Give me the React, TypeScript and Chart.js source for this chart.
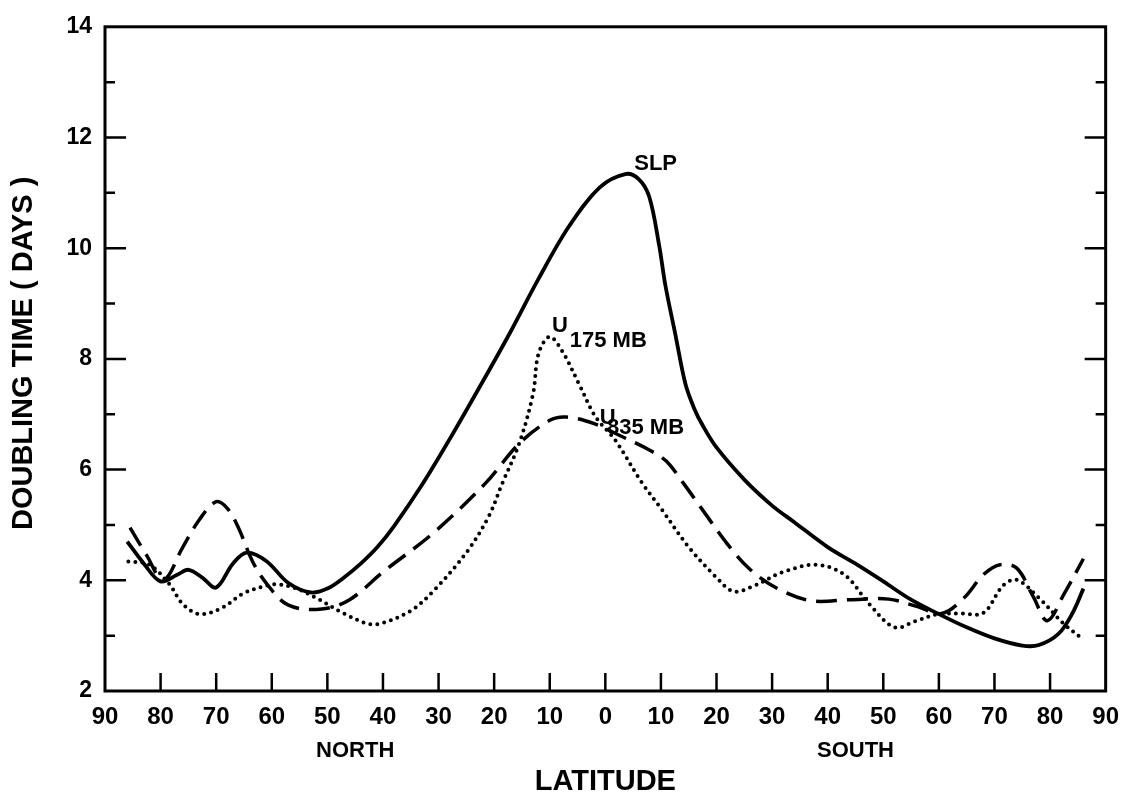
import React, { useEffect, useRef } from "react";
import { Chart, registerables } from "chart.js";

Chart.register(...registerables);

// Latitude: negative = North, positive = South
const slpLat = [-86, -83, -80, -77, -75, -72.5, -70, -67, -64.5, -61, -57, -53, -50, -47, -44, -41, -38, -33, -28, -22, -17, -12, -6.5, -1, 3.6, 6, 7.9, 9.7, 10.8, 12.6, 14.4, 16, 17.5, 20, 25, 30, 34, 40, 45, 50, 55, 60, 65, 70, 75, 78, 81.5, 84, 86];
const slpDays = [4.7, 4.3, 3.98, 4.1, 4.19, 4.05, 3.87, 4.3, 4.5, 4.35, 3.95, 3.78, 3.85, 4.05, 4.3, 4.6, 4.98, 5.72, 6.55, 7.6, 8.5, 9.45, 10.4, 11.1, 11.34, 11.25, 10.93, 10.04, 9.33, 8.44, 7.55, 7.1, 6.8, 6.4, 5.82, 5.35, 5.05, 4.6, 4.3, 3.98, 3.65, 3.39, 3.15, 2.95, 2.82, 2.83, 3.03, 3.4, 3.85];

const u175Lat = [-85.8, -82, -78.5, -76, -73, -69, -65, -61, -59, -55.5, -52, -47, -42.5, -40, -35, -31, -25, -21, -18.5, -15.5, -13, -12, -10, -7.7, -4.7, -1.8, 1.8, 6.6, 10, 15, 20, 23, 26.5, 32, 38, 43, 47.5, 52, 56, 60, 64, 68, 71.5, 74, 78, 82.5, 85.6];
const u175Days = [4.34, 4.28, 3.94, 3.57, 3.39, 3.5, 3.77, 3.9, 3.93, 3.85, 3.68, 3.4, 3.21, 3.23, 3.45, 3.8, 4.5, 5.15, 5.76, 6.47, 7.37, 8.1, 8.4, 8.13, 7.54, 6.96, 6.53, 5.76, 5.3, 4.6, 4.05, 3.8, 3.89, 4.15, 4.28, 4.1, 3.57, 3.15, 3.27, 3.39, 3.4, 3.41, 3.9, 4.01, 3.68, 3.21, 2.96];

const u835Lat = [-85.5, -82.5, -79.5, -76, -73, -70, -68, -66, -63.5, -61, -57, -51, -46, -40, -31, -21.5, -15.5, -10, -7, -2, 2.5, 8, 11, 14, 18, 22, 26, 31, 37, 44, 51, 56, 60.5, 64.5, 68, 71, 74, 77, 79.5, 82.5, 86];
const u835Days = [4.95, 4.45, 4.0, 4.6, 5.1, 5.42, 5.3, 4.95, 4.35, 3.95, 3.55, 3.48, 3.65, 4.15, 4.85, 5.76, 6.47, 6.89, 6.95, 6.83, 6.62, 6.35, 6.15, 5.76, 5.2, 4.65, 4.2, 3.85, 3.63, 3.65, 3.66, 3.53, 3.4, 3.68, 4.1, 4.28, 4.22, 3.7, 3.27, 3.75, 4.39];

const hemisphereLabels = ["NORTH", "SOUTH"];
const hemisphereCenters = [-45, 45];
const yTitle = "DOUBLING TIME ( DAYS )";

const FONT = "'Liberation Sans', Arial, Helvetica, sans-serif";

const toPoints = (lat: number[], days: number[]) => lat.map((x, i) => ({ x, y: days[i] }));

const curveLabels = [
  { main: "SLP", x: 5.2, y: 11.41 },
  { main: "U", x: -9.6, y: 8.49, sub: "175 MB", subX: -6.4, subY: 8.22 },
  { main: "U", x: -1.0, y: 6.83, sub: "835 MB", subX: 0.3, subY: 6.65 },
];

const framePlugin = {
  id: "frame",
  afterDatasetsDraw(chart: any) {
    const { ctx, chartArea: a, scales } = chart;
    const xs = scales.x;
    const ys = scales.y;
    ctx.save();
    ctx.strokeStyle = "#000";
    ctx.lineCap = "butt";
    ctx.lineWidth = 2.5;
    ys.ticks.forEach((t: any) => {
      const v = t.value;
      if (v <= ys.min || v >= ys.max) return;
      const py = ys.getPixelForValue(v);
      const len = v % 2 === 0 ? 21 : 10;
      ctx.beginPath();
      ctx.moveTo(a.left, py);
      ctx.lineTo(a.left + len, py);
      ctx.moveTo(a.right, py);
      ctx.lineTo(a.right - len, py);
      ctx.stroke();
    });
    xs.ticks.forEach((t: any) => {
      const v = t.value;
      if (v <= xs.min || v >= xs.max) return;
      const px = xs.getPixelForValue(v);
      ctx.beginPath();
      ctx.moveTo(px, a.bottom);
      ctx.lineTo(px, a.bottom - 18);
      ctx.stroke();
    });
    ctx.lineWidth = 3;
    ctx.strokeRect(a.left, a.top, a.right - a.left, a.bottom - a.top);

    ctx.fillStyle = "#000";
    ctx.font = `bold 22px ${FONT}`;
    ctx.textAlign = "left";
    ctx.textBaseline = "alphabetic";
    curveLabels.forEach((l: any) => {
      ctx.fillText(l.main, xs.getPixelForValue(l.x), ys.getPixelForValue(l.y));
      if (l.sub) ctx.fillText(l.sub, xs.getPixelForValue(l.subX), ys.getPixelForValue(l.subY));
    });
    ctx.font = `bold 22px ${FONT}`;
    ctx.textAlign = "center";
    ctx.textBaseline = "middle";
    hemisphereLabels.forEach((t, i) => {
      ctx.fillText(t, xs.getPixelForValue(hemisphereCenters[i]), a.bottom + 60);
    });
    // y axis title
    ctx.save();
    ctx.translate(24, ys.getPixelForValue(8.1));
    ctx.rotate(-Math.PI / 2);
    ctx.font = `bold 29px ${FONT}`;
    ctx.fillText(yTitle, 0, 0);
    ctx.restore();
    ctx.restore();
  },
};

export default function App() {
  const canvasRef = useRef<HTMLCanvasElement | null>(null);

  useEffect(() => {
    if (!canvasRef.current) return;
    const common = {
      pointRadius: 0,
      borderColor: "#000",
      borderWidth: 3.5,
      fill: false,
      tension: 0.35,
    };
    const chart = new Chart(canvasRef.current, {
      type: "line",
      data: {
        datasets: [
          { ...common, label: "SLP", data: toPoints(slpLat, slpDays), borderWidth: 3.8 },
          { ...common, label: "U175", data: toPoints(u175Lat, u175Days), borderDash: [0, 7], borderCapStyle: "round", borderWidth: 4 },
          { ...common, label: "U835", data: toPoints(u835Lat, u835Days), borderDash: [21, 10], borderCapStyle: "butt" },
        ],
      },
      options: {
        animation: false,
        responsive: false,
        devicePixelRatio: 1,
        layout: { padding: { left: 0, top: 18, right: 25, bottom: 0 } },
        plugins: { legend: { display: false }, tooltip: { enabled: false } },
        scales: {
          x: {
            type: "linear",
            min: -90,
            max: 90,
            afterFit: (s: any) => { s.height = 109; },
            grid: { display: false, drawTicks: false },
            border: { display: false },
            ticks: {
              stepSize: 10,
              autoSkip: false,
              maxRotation: 0,
              color: "#000",
              padding: 12,
              font: { family: FONT, size: 24, weight: "bold" },
              callback: (v: any) => String(Math.abs(Number(v))),
            },
            title: {
              display: true,
              text: "LATITUDE",
              color: "#000",
              font: { family: FONT, size: 29, weight: "bold" },
              padding: { top: 0, bottom: 1 },
            },
          },
          y: {
            type: "linear",
            min: 2,
            max: 14,
            afterFit: (s: any) => { s.width = 105; },
            grid: { display: false, drawTicks: false },
            border: { display: false },
            ticks: {
              stepSize: 1,
              autoSkip: false,
              color: "#000",
              padding: 13,
              font: { family: FONT, size: 23, weight: "bold" },
              callback: (v: any) => (Number(v) % 2 === 0 ? String(v) : ""),
            },
          },
        },
      },
      plugins: [framePlugin],
    });
    return () => chart.destroy();
  }, []);

  return (
    <div style={{ position: "absolute", left: 0, top: 0, width: 1131, height: 800, background: "#fff" }}>
      <canvas ref={canvasRef} width={1131} height={800} />
    </div>
  );
}
